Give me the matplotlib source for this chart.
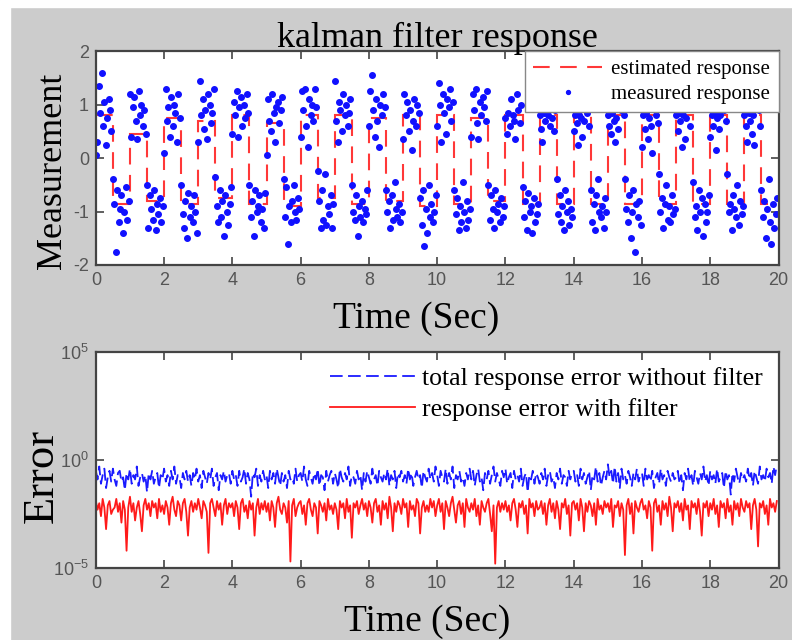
import numpy as np
import matplotlib
matplotlib.use("Agg")
import matplotlib.pyplot as plt
from matplotlib.patches import Rectangle

# measured response, 24 samples per second (12 in the high half, 12 in the low half)
measured = [
    .05, .3, 1.35, .85, 1.6, .6, 1.05, .25, .75, 1.1, .9, .5, -.4, -.85, -1.75, -.6, -1.2, -.95, -.7, -1.4, -1.0, -.55, -1.15, -.8,
    1.2, .4, .95, 1.15, .7, .35, 1.25, .8, 1.0, .6, .9, .45, -.5, -1.3, -.7, -.95, -1.15, -.6, -1.35, -.85, -1.05, -.75, -1.2, -.9,
    .1, 1.3, .7, .95, .4, 1.15, .6, 1.0, .85, .3, 1.2, .75, -.5, -1.05, -1.3, -.8, -1.5, -.65, -1.1, -.9, -1.2, -.7, -1.0, -1.4,
    .3, 1.45, .8, 1.1, .55, .9, .35, 1.2, 1.0, .65, .85, 1.3, -.35, -.9, -1.2, -.6, -1.1, -.8, -1.45, -.7, -1.0, -1.25, -.85, -.55,
    .45, 1.05, .8, 1.25, .4, .95, 1.15, .6, 1.0, .75, 1.2, .85, -.5, -1.1, -.8, -1.45, -.6, -1.0, -.9, -.7, -1.2, -.95, -1.3, -.65,
    .05, 1.1, .7, .5, 1.2, .85, .3, .95, 1.05, .65, .9, 1.15, -.4, -1.1, -.55, -1.6, -.9, -1.2, -.8, -.5, -1.0, -1.15, -.75, -.95,
    .4, 1.25, .9, 1.3, .6, .2, 1.1, .8, 1.0, .7, 1.3, .95, -.25, -.8, -1.3, -.6, -1.15, -.3, -1.25, -.9, -1.05, -.7, -1.3, -.85,
    1.45, .7, .3, 1.05, .9, .5, 1.2, .8, 1.0, .6, .85, 1.1, -.5, -1.0, -1.15, -.7, -1.45, -.9, -1.1, -.8, -1.2, -.95, -1.05, -.6,
    .6, 1.25, 1.55, .9, .4, 1.1, .7, .2, 1.0, .8, 1.2, .95, -.6, -1.0, -.8, -1.3, -.7, -1.15, -.45, -.95, -1.1, -.85, -1.2, -1.0,
    .35, 1.2, .8, 1.05, .5, .9, .15, .7, 1.1, .6, 1.0, .85, -.75, -1.25, -.6, -1.65, -.95, -1.4, -.5, -1.1, -.85, -1.2, -1.0, -.7,
    .6, 1.4, 1.0, .3, 1.2, .85, .45, 1.1, .95, 1.3, .7, 1.05, -.6, -1.05, -.75, -1.35, -.9, -1.2, -.45, -1.0, -1.3, -.8, -1.15, -.95,
    .4, 1.2, .9, 1.3, .65, .35, 1.05, .8, 1.15, .95, .7, 1.25, -.5, -1.15, -.7, -.95, -1.3, -.6, -1.0, -.85, -1.2, -.75, -1.1, -.9,
    .75, .45, .85, .6, 1.1, .8, .7, .35, 1.2, .9, .65, 1.0, -.55, -1.1, -.8, -1.35, -.65, -1.0, -.9, -1.4, -.75, -1.2, -1.05, -.85,
    .8, .55, .3, .85, .7, 1.1, .8, .6, 1.3, .75, .5, .9, -.4, -1.05, -.7, -1.2, -.9, -1.35, -.6, -1.0, -.8, -1.25, -.95, -1.1,
    .5, .8, .65, .25, .8, .75, .4, .7, 1.2, .85, 1.0, .6, -.6, -1.2, -.85, -1.35, -.7, -.4, -1.0, -1.1, -.9, -1.3, -.75, -1.0,
    .8, .6, .45, .85, .7, .3, .75, .55, 1.1, .9, 1.3, .8, -.4, -.95, -1.2, -.7, -1.5, -1.0, -.6, -1.75, -.85, -1.1, -.8, -1.25,
    .2, .8, .55, .85, .35, .75, .6, .1, 1.0, 1.2, .8, .65, -.3, -1.0, -.75, -1.3, -.85, -.5, -1.15, -.9, -1.2, -.7, -1.05, -.95,
    .8, .5, .85, .7, .2, .8, .35, .75, 1.1, .95, .6, 1.2, -.45, -1.1, -.9, -1.35, -.6, -1.0, -.75, -1.45, -.85, -1.2, -1.0, -.7,
    .4, .8, .6, .85, .15, .75, .55, .8, 1.05, 1.2, .9, .7, -.3, -1.0, -.85, -1.35, -.7, -.95, -1.1, -.5, -1.25, -.8, -1.05, -.9,
    .8, .6, .3, .85, .7, .45, .8, .25, 1.0, 1.15, .9, .6, -.6, -1.1, -.8, -1.5, -.95, -.4, -1.2, -1.6, -.85, -1.3, -1.05, -.75,
]
measured_dt = 1 / 24

# estimated response level for each half second
estimated = [
    0.8, -0.85, 0.45, -0.8, 0.75, -0.85, 0.7, -0.75, 0.8, -0.85,
    0.65, -0.9, 0.8, -0.75, 0.8, -0.85, 0.75, -0.8, 0.8, -0.9,
    0.8, -0.85, 0.75, -0.8, 0.8, -0.85, 0.8, -0.85, 0.8, -0.85,
    0.8, -0.85, 0.8, -0.85, 0.8, -0.85, 0.8, -0.85, 0.8, -0.85,
]
estimated_step = 0.5

# log10 of the errors, 20 samples per second
err_nofilter_log = [
    -.5, -.9, -.3, -1.1, -.7, -.4, -1.3, -.8, -.5, -1.0, -.4, -.9, -1.2, -.6, -.5, -1.0, -.8, -1.4, -.6, -.9,
    -.4, -1.1, -.7, -.9, -.3, -1.2, -.8, -.6, -1.0, -.7, -1.5, -.6, -.9, -.5, -1.1, -.8, -.6, -1.3, -.7, -.9,
    -.4, -1.0, -.7, -1.2, -.5, -.9, -.3, -1.1, -.7, -.8, -1.3, -.6, -.9, -.5, -1.0, -.7, -1.2, -.6, -.9, -.4,
    -1.0, -.7, -1.3, -.5, -.8, -1.1, -.6, -.9, -.4, -1.2, -.8, -.6, -1.4, -.7, -.9, -.5, -1.0, -.7, -.6, -1.1,
    -.5, -.9, -.7, -1.2, -.5, -1.0, -.8, -.4, -1.1, -.6, -.9, -1.7, -.6, -.8, -.4, -1.2, -.7, -1.0, -.5, -.9,
    -.7, -1.3, -.5, -.9, -.6, -1.1, -.4, -.8, -1.2, -.6, -1.0, -.7, -1.3, -.5, -.9, -.8, -1.1, -.4, -1.0, -.7,
    -.6, -1.0, -.3, -.9, -1.2, -.5, -.8, -1.1, -.6, -.9, -.4, -1.2, -.7, -.8, -1.4, -.5, -1.0, -.7, -.5, -1.1,
    -.6, -.9, -1.3, -.4, -.8, -1.0, -.6, -.9, -.3, -1.2, -.7, -.8, -1.1, -.5, -.9, -.7, -1.4, -.6, -1.0, -.5,
    -.8, -1.1, -.4, -.9, -.7, -1.2, -.5, -.8, -1.0, -.6, -.9, -.4, -1.2, -.7, -.9, -.5, -1.3, -.6, -.8, -.5,
    -1.0, -.7, -1.1, -.4, -.9, -.6, -1.2, -.8, -.5, -.9, -.7, -1.3, -.5, -.8, -1.0, -.4, -.9, -.6, -1.0, -.3,
    -.7, -1.2, -.5, -.8, -1.0, -.4, -1.1, -.6, -.9, -.3, -1.3, -.7, -.9, -.5, -1.0, -.8, -1.2, -.6, -.9, -.4,
    -.9, -.5, -1.2, -.7, -.4, -1.0, -.8, -1.4, -.6, -.9, -.5, -1.1, -.7, -.3, -1.0, -.6, -.9, -1.2, -.5, -.8,
    -.4, -1.1, -.8, -.6, -1.3, -.5, -.9, -.7, -1.0, -.4, -1.2, -.8, -.6, -1.5, -.7, -.9, -.5, -1.1, -.6, -.8,
    -1.1, -.6, -.9, -.4, -1.2, -.7, -.5, -1.0, -.8, -1.3, -.6, -.9, -.4, -1.1, -.7, -.8, -1.2, -.5, -.9, -.6,
    -.5, -1.0, -.7, -1.2, -.4, -.9, -.6, -1.1, -.8, -.5, -1.4, -.7, -.9, -.3, -1.0, -.6, -1.2, -.8, -.5, -.9,
    -.2, -.8, -.5, -1.1, -.3, -1.0, -.6, -1.3, -.4, -.9, -.7, -1.1, -.5, -.8, -1.2, -.6, -.9, -.4, -1.0, -.7,
    -.6, -1.2, -.4, -.9, -.7, -1.0, -.5, -1.3, -.8, -.6, -1.1, -.4, -.9, -.7, -1.2, -.5, -.8, -1.0, -.6, -.9,
    -.8, -.5, -1.1, -.7, -1.4, -.6, -.9, -.4, -1.0, -.7, -1.2, -.5, -.8, -1.1, -.6, -.9, -.3, -1.0, -.7, -1.2,
    -.5, -.9, -.7, -1.1, -.4, -1.0, -.8, -.6, -1.3, -.5, -.9, -.7, -1.6, -.6, -1.0, -.4, -.8, -1.1, -.6, -.9,
    -.7, -1.0, -.4, -.9, -.6, -1.2, -.5, -.8, -1.1, -.3, -.9, -.7, -1.0, -.4, -.8, -.6, -1.1, -.3, -.7, -.2,
]
err_filter_log = [
    -1.9, -2.3, -2.0, -2.6, -1.8, -2.2, -3.2, -2.1, -1.9, -2.5, -2.3, -2.2, -1.8, -2.4, -2.0, -2.9, -1.9, -2.3, -4.2, -2.2,
    -1.7, -2.4, -2.0, -2.8, -2.2, -1.9, -2.5, -3.3, -2.1, -1.8, -2.3, -2.0, -2.6, -1.9, -2.2, -2.0, -2.7, -1.8, -2.4, -2.1,
    -2.5, -1.9, -2.2, -3.0, -2.0, -1.7, -2.3, -2.6, -1.9, -2.1, -2.8, -2.0, -1.8, -2.4, -3.5, -2.2, -1.9, -2.4, -2.0, -2.3,
    -1.8, -2.2, -2.7, -1.9, -2.1, -2.4, -4.3, -2.0, -1.8, -2.2, -2.6, -1.9, -2.3, -2.0, -3.0, -2.1, -1.8, -2.5, -2.0, -2.2,
    -2.0, -2.6, -1.9, -2.2, -3.2, -2.0, -1.8, -2.4, -2.1, -2.7, -1.9, -2.3, -2.0, -3.5, -2.2, -1.8, -2.5, -2.0, -2.3, -1.9,
    -2.4, -2.0, -2.8, -1.9, -2.2, -3.1, -2.0, -1.7, -2.3, -2.5, -2.0, -2.2, -2.9, -1.9, -4.7, -2.1, -1.8, -2.6, -2.2, -2.0,
    -1.9, -2.5, -2.1, -3.0, -2.0, -1.8, -2.3, -2.6, -2.0, -2.2, -3.4, -1.9, -2.1, -2.4, -2.0, -2.8, -1.8, -2.3, -2.1, -2.5,
    -2.0, -2.3, -3.2, -1.9, -2.2, -2.0, -2.7, -1.8, -2.4, -2.1, -3.6, -2.0, -2.2, -1.9, -2.5, -2.1, -1.8, -2.3, -2.0, -2.6,
    -1.9, -2.2, -2.9, -2.0, -1.8, -2.4, -2.1, -3.0, -1.9, -2.3, -2.0, -2.7, -1.7, -2.2, -3.3, -2.0, -2.4, -1.9, -2.1, -2.5,
    -1.8, -2.2, -2.0, -3.1, -1.9, -2.3, -2.1, -2.6, -1.8, -2.0, -3.4, -2.2, -1.9, -2.4, -2.1, -2.4, -1.8, -2.2, -1.9, -2.6,
    -2.1, -1.8, -2.4, -2.0, -3.2, -1.9, -2.2, -2.6, -2.0, -1.7, -2.3, -2.9, -2.1, -1.9, -2.5, -2.0, -3.1, -1.8, -2.2, -2.4,
    -2.0, -2.3, -1.8, -2.6, -2.1, -3.0, -1.9, -2.2, -2.4, -2.0, -1.8, -2.5, -3.3, -2.1, -4.8, -2.2, -1.9, -2.4, -2.0, -2.3,
    -1.9, -2.4, -2.1, -2.8, -2.0, -1.8, -2.3, -3.1, -2.0, -2.2, -1.9, -2.5, -2.1, -3.4, -1.8, -2.2, -2.0, -2.6, -1.9, -2.3,
    -2.2, -1.9, -2.5, -2.0, -3.0, -2.1, -1.8, -2.4, -2.0, -2.7, -1.9, -2.3, -3.2, -2.0, -2.2, -1.8, -2.5, -2.1, -3.5, -2.0,
    -1.9, -2.3, -2.0, -2.8, -1.8, -2.2, -3.3, -2.0, -2.4, -1.9, -2.1, -2.6, -2.0, -3.0, -1.8, -2.3, -2.1, -2.5, -1.9, -2.2,
    -2.0, -2.4, -1.8, -3.1, -2.1, -2.2, -1.9, -2.6, -2.0, -2.3, -4.4, -2.1, -1.8, -2.5, -2.0, -3.4, -1.9, -2.2, -2.4, -2.0,
    -1.8, -2.3, -2.1, -2.7, -1.9, -2.2, -4.2, -2.0, -1.8, -2.4, -2.1, -3.0, -1.9, -2.3, -2.0, -2.6, -1.7, -2.2, -3.3, -2.0,
    -2.2, -1.9, -2.4, -2.0, -2.8, -1.8, -2.3, -2.1, -3.2, -1.9, -2.2, -2.0, -2.5, -1.8, -2.4, -3.5, -2.0, -2.2, -1.9, -2.6,
    -2.0, -2.3, -1.8, -2.5, -2.1, -3.1, -1.9, -2.2, -2.0, -2.7, -1.8, -2.4, -2.1, -3.0, -1.9, -2.3, -2.0, -2.6, -1.8, -2.2,
    -2.4, -1.9, -2.2, -2.0, -3.2, -2.1, -1.8, -2.3, -4.0, -2.0, -2.2, -1.9, -2.5, -2.1, -3.0, -1.8, -2.2, -2.0, -2.4, -1.9,
]
err_dt = 0.05

x_ticks = [0, 2, 4, 6, 8, 10, 12, 14, 16, 18, 20]
y_ticks_top = [-2, -1, 0, 1, 2]
y_ticks_bottom = [1e-5, 1e0, 1e5]
y_ticklabels_bottom = ["$10^{-5}$", "$10^{0}$", "$10^{5}$"]

serif = "Liberation Serif"
sans = "Liberation Sans"
tick_color = "#555555"
spine_color = "#444444"

plt.rcParams["axes.unicode_minus"] = False
plt.rcParams["mathtext.fontset"] = "custom"
plt.rcParams["mathtext.rm"] = sans
plt.rcParams["mathtext.it"] = sans

fig = plt.figure(figsize=(7.92, 6.4), dpi=100, facecolor="#cccccc")
fig.add_artist(Rectangle((0, 0.989), 1, 0.011, transform=fig.transFigure,
                         color="white", zorder=-1))
fig.add_artist(Rectangle((0, 0), 0.0126, 1, transform=fig.transFigure,
                         color="white", zorder=-1))

ax1 = fig.add_axes([0.121, 0.586, 0.862, 0.334])
ax2 = fig.add_axes([0.121, 0.1125, 0.862, 0.3375])


def style_axes(ax):
    for s in ax.spines.values():
        s.set_color(spine_color)
        s.set_linewidth(1.6)
    ax.tick_params(direction="in", top=True, right=True, length=6,
                   width=1.2, colors=spine_color, labelcolor=tick_color,
                   labelsize=13, pad=5)
    for lab in ax.get_xticklabels() + ax.get_yticklabels():
        lab.set_fontfamily(sans)


# top panel
t_meas = np.arange(len(measured)) * measured_dt
edges = np.arange(len(estimated) + 1) * estimated_step
ax1.stairs(estimated, edges, color="#ff3838", linestyle=(0, (8, 5)),
           linewidth=1.5, baseline=None, label="estimated response")
ax1.plot(t_meas, measured, linestyle="none", marker="o", markersize=4.0,
         color="#1010ff", label="measured response")
ax1.set_xlim(0, 20)
ax1.set_ylim(-2, 2)
ax1.set_xticks(x_ticks)
ax1.set_yticks(y_ticks_top)
style_axes(ax1)
ax1.set_title("kalman filter response", fontfamily=serif, fontsize=26, pad=3)
ax1.set_xlabel("Time (Sec)", fontfamily=serif, fontsize=27)
ax1.xaxis.set_label_coords(0.469, -0.17)
ax1.set_ylabel("Measurement", fontfamily=serif, fontsize=26)
ax1.yaxis.set_label_coords(-0.04, 0.44)
leg1 = ax1.legend(loc="upper right", prop={"family": serif, "size": 15},
                  frameon=True, fancybox=False, borderaxespad=0.0,
                  handlelength=3.3, handletextpad=0.45, markerscale=0.7,
                  labelspacing=0.25, borderpad=0.4, framealpha=1.0)
leg1.get_frame().set_edgecolor("#888888")
leg1.get_frame().set_linewidth(1.0)

# bottom panel
t_err = np.arange(len(err_nofilter_log)) * err_dt
err_nofilter = 10.0 ** np.array(err_nofilter_log)
err_filter = 10.0 ** np.array(err_filter_log)
ax2.plot(t_err, err_nofilter, color="#1a1aff", linestyle=(0, (7, 3)),
         linewidth=1.3, label="total response error without filter")
ax2.plot(t_err, err_filter, color="#ff1a1a", linewidth=1.3,
         label="response error with filter")
ax2.set_yscale("log")
ax2.set_xlim(0, 20)
ax2.set_ylim(1e-5, 1e5)
ax2.set_xticks(x_ticks)
ax2.set_yticks(y_ticks_bottom)
ax2.set_yticklabels(y_ticklabels_bottom)
ax2.minorticks_off()
style_axes(ax2)
ax2.set_xlabel("Time (Sec)", fontfamily=serif, fontsize=27)
ax2.xaxis.set_label_coords(0.485, -0.17)
ax2.set_ylabel("Error", fontfamily=serif, fontsize=32)
ax2.yaxis.set_label_coords(-0.05, 0.426)
ax2.legend(loc="upper right", prop={"family": serif, "size": 18.5},
           frameon=False, borderaxespad=0.2, handlelength=3.3,
           handletextpad=0.3, labelspacing=0.3)

fig.savefig("out.png", dpi=100, facecolor=fig.get_facecolor())
